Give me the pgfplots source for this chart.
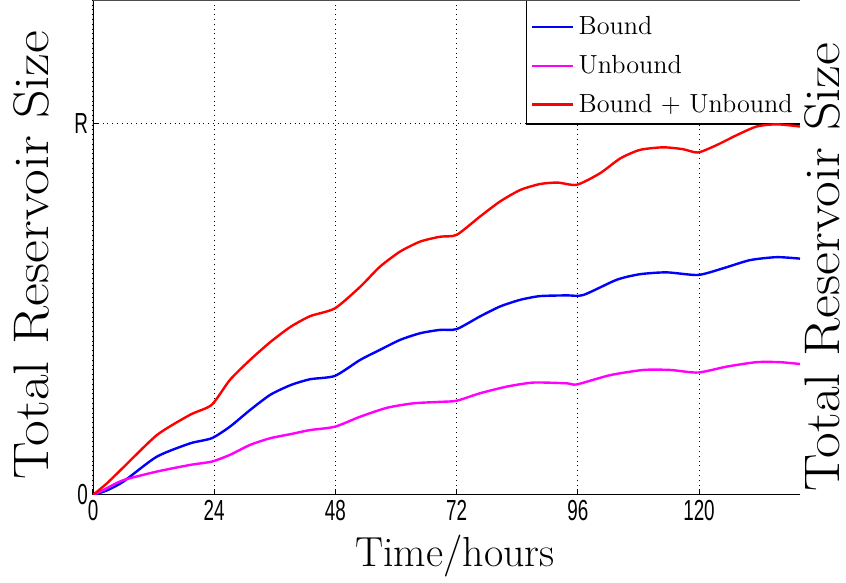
\documentclass[border=0pt]{standalone}
\usepackage{fontspec}
\usepackage{graphicx}
\usepackage{pgfplots}
\pgfplotsset{compat=1.18}
\definecolor{mag}{rgb}{1,0,1}
\newfontfamily\tickfont{Liberation Sans}
\newcommand\tl[1]{\scalebox{0.65}[1]{\tickfont\fontsize{14.5pt}{15pt}\selectfont #1}}
\begin{document}
\begin{tikzpicture}
\begin{axis}[
  at={(0,0)}, anchor=south west,
  width=353.5pt, height=247.5pt, scale only axis,
  xmin=0, xmax=140, ymin=0, ymax=1.334,
  axis line style={draw=none},
  xtick={0,24,48,72,96,120},
  xticklabels={\tl{0},\tl{24},\tl{48},\tl{72},\tl{96},\tl{120}},
  ytick={0,1},
  yticklabels={\tl{0},\tl{R}},
  xtick pos=bottom, ytick pos=left,
  tick align=inside,
  major tick length=2.5pt,
  tick style={black, line width=0.5pt},
  xmajorgrids, ymajorgrids,
  grid style={dotted, black, line width=0.5pt},
  xticklabel style={yshift=1pt},
  yticklabel style={xshift=1pt},
  legend style={draw=none, fill=none, at={(axis cs:85.9,1.334)}, anchor=north west,
    font=\fontsize{13.1pt}{16pt}\selectfont, inner xsep=2pt, inner ysep=3pt,
    row sep=4.8pt, yshift=-3pt},
  legend cell align=left,
  legend image code/.code={\draw[#1] (0pt,0pt) -- (20.5pt,0pt);},
]
\fill[white] (axis cs:85.9,1) rectangle (axis cs:140,1.334);
\draw[black, line width=0.6pt] (axis cs:85.9,1.334) -- (axis cs:85.9,1) -- (axis cs:140,1);
\draw[black, line width=0.6pt] (rel axis cs:0,1) -- (rel axis cs:0,0) -- (rel axis cs:1,0);
\draw[black!70, line width=1pt] (rel axis cs:0,1) -- (rel axis cs:1,1);

\addplot[blue, line width=1.2pt, smooth, tension=0.4] table {
0 0
2.7 0.012
6.0 0.036
12.6 0.103
19.2 0.139
23.5 0.153
27.1 0.184
31.1 0.229
35.1 0.270
39.1 0.296
43.0 0.312
47.9 0.321
52.9 0.364
56.8 0.391
60.8 0.418
64.8 0.436
68.7 0.445
72.0 0.447
76.6 0.481
80.6 0.508
84.6 0.526
88.5 0.536
93.8 0.538
97.1 0.539
103.7 0.580
108.3 0.595
113.6 0.600
119.8 0.593
124.8 0.611
130.1 0.633
135.4 0.641
140 0.637
};
\addlegendentry{Bound}
\addplot[mag, line width=1.2pt, smooth, tension=0.4] table {
0 0
2.7 0.018
6.0 0.040
12.6 0.063
19.2 0.081
23.5 0.090
27.1 0.108
31.1 0.135
35.1 0.153
39.1 0.164
43.0 0.175
47.9 0.184
52.9 0.211
58.2 0.235
63.4 0.247
68.7 0.251
72.0 0.254
76.6 0.274
81.9 0.292
87.2 0.303
93.8 0.301
95.8 0.298
102.4 0.323
109.0 0.337
114.3 0.337
119.8 0.330
125.5 0.346
131.4 0.358
136.0 0.358
140 0.353
};
\addlegendentry{Unbound}
\addplot[red, line width=1.2pt, smooth, tension=0.4] table {
0 0
2.8 0.032
5.9 0.073
12.7 0.162
19.2 0.216
23.5 0.243
27.1 0.310
31.1 0.364
35.1 0.412
39.1 0.453
43.0 0.482
47.9 0.503
52.9 0.561
56.8 0.615
60.8 0.656
64.8 0.683
68.7 0.696
72.0 0.701
76.6 0.750
80.6 0.791
84.6 0.822
88.5 0.838
92.0 0.842
95.8 0.836
100.4 0.867
104.4 0.907
108.3 0.930
112.9 0.937
116.8 0.932
119.8 0.923
123.5 0.943
127.5 0.970
131.4 0.993
135.4 0.999
140 0.993
};
\addlegendentry{Bound + Unbound}
\end{axis}
\node[rotate=90, font=\fontsize{25pt}{30pt}\selectfont] at (-31pt,120pt) {\scalebox{1.12}[1]{Total Reservoir Size}};
\node[rotate=90, font=\fontsize{25pt}{30pt}\selectfont] at (364.5pt,114pt) {\scalebox{1.12}[1]{Total Reservoir Size}};
\node[anchor=base, font=\fontsize{21pt}{25pt}\selectfont] at (181pt,-36pt) {Time/hours};
\pgfresetboundingbox
\path[use as bounding box] (-46.5pt,-44pt) rectangle (376.5pt,247.5pt);
\end{tikzpicture}
\end{document}
